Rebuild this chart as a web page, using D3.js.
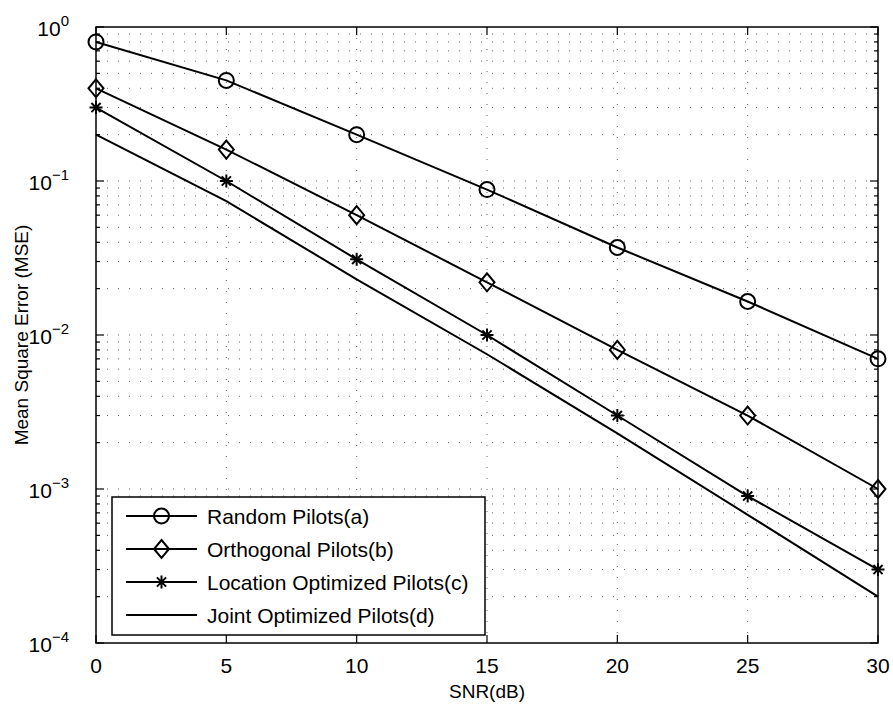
<!DOCTYPE html>
<html>
<head>
<meta charset="utf-8">
<script src="https://cdn.jsdelivr.net/npm/d3@7"></script>
<style>
  body { margin: 0; background: #fff; }
  svg { display: block; font-family: "Liberation Sans", Arial, Helvetica, sans-serif; }
  .grid line { stroke: #666; stroke-width: 1; stroke-dasharray: 1,10; }
</style>
</head>
<body>
<svg id="chart" width="893" height="706"></svg>
<script>
(function () {
  "use strict";

  const snr = [0, 5, 10, 15, 20, 25, 30];
  const randomMse = [0.8, 0.45, 0.2, 0.088, 0.037, 0.0165, 0.007];
  const orthMse = [0.4, 0.16, 0.06, 0.022, 0.008, 0.003, 0.001];
  const locMse = [0.3, 0.1, 0.031, 0.01, 0.003, 0.0009, 0.0003];
  const jointMse = [0.2, 0.074, 0.023, 0.0075, 0.0023, 0.00068, 0.0002];

  const seriesNames = ["Random Pilots(a)", "Orthogonal Pilots(b)", "Location Optimized Pilots(c)", "Joint Optimized Pilots(d)"];
  const seriesMarkers = ["circle", "diamond", "asterisk", "none"];
  const seriesValues = [randomMse, orthMse, locMse, jointMse];

  const xTicks = [0, 5, 10, 15, 20, 25, 30];
  const yDecades = [-4, -3, -2, -1, 0];

  const svg = d3.select("#chart");
  const left = 96, right = 878, top = 27, bottom = 643;

  const x = d3.scaleLinear().domain([0, 30]).range([left, right]);
  const y = d3.scaleLog().domain([1e-4, 1]).range([bottom, top]);

  // minor log values for grid + ticks
  const minorVals = [];
  yDecades.slice(0, -1).forEach((e) => {
    for (let k = 2; k <= 9; k++) minorVals.push(k * Math.pow(10, e));
  });
  const allY = minorVals.concat(yDecades.map((e) => Math.pow(10, e)));

  // dotted grid
  const grid = svg.append("g").attr("class", "grid");
  grid.selectAll("line.h")
    .data(allY.filter((v) => v > 1e-4 && v < 1))
    .join("line")
    .attr("x1", left).attr("x2", right)
    .attr("y1", (d) => y(d)).attr("y2", (d) => y(d));
  grid.selectAll("line.v")
    .data(xTicks.filter((v) => v > 0 && v < 30))
    .join("line")
    .attr("class", "v")
    .attr("x1", (d) => x(d)).attr("x2", (d) => x(d))
    .attr("y1", top).attr("y2", bottom);

  // inward ticks on all four sides
  const ticks = svg.append("g").attr("stroke", "#000").attr("stroke-width", 1.2);
  xTicks.forEach((v) => {
    ticks.append("line").attr("x1", x(v)).attr("x2", x(v)).attr("y1", bottom).attr("y2", bottom - 8);
    ticks.append("line").attr("x1", x(v)).attr("x2", x(v)).attr("y1", top).attr("y2", top + 8);
  });
  allY.forEach((v) => {
    const major = yDecades.some((e) => Math.abs(Math.log10(v) - e) < 1e-9);
    const len = major ? 8 : 4;
    ticks.append("line").attr("x1", left).attr("x2", left + len).attr("y1", y(v)).attr("y2", y(v));
    ticks.append("line").attr("x1", right).attr("x2", right - len).attr("y1", y(v)).attr("y2", y(v));
  });

  // frame
  svg.append("rect")
    .attr("x", left).attr("y", top)
    .attr("width", right - left).attr("height", bottom - top)
    .attr("fill", "none").attr("stroke", "#000").attr("stroke-width", 1.5);

  // tick labels
  svg.append("g").selectAll("text")
    .data(xTicks)
    .join("text")
    .attr("x", (d) => x(d))
    .attr("y", bottom + 30)
    .attr("text-anchor", "middle")
    .attr("font-size", 21)
    .text((d) => d);

  const yl = svg.append("g").selectAll("text")
    .data(yDecades)
    .join("text")
    .attr("x", 69)
    .attr("y", (d) => y(Math.pow(10, d)) + 9)
    .attr("text-anchor", "end")
    .attr("font-size", 21);
  yl.append("tspan").text("10");
  yl.append("tspan")
    .attr("dy", -10)
    .attr("font-size", 15)
    .text((d) => (d < 0 ? "\u2212" + (-d) : d));

  // axis titles
  svg.append("text")
    .attr("x", (left + right) / 2).attr("y", 698)
    .attr("text-anchor", "middle").attr("font-size", 19)
    .text("SNR(dB)");
  svg.append("text")
    .attr("transform", `translate(28,${(top + bottom) / 2}) rotate(-90)`)
    .attr("text-anchor", "middle").attr("font-size", 19)
    .text("Mean Square Error (MSE)");

  function drawMarker(g, type, cx, cy) {
    if (type === "circle") {
      g.append("circle").attr("cx", cx).attr("cy", cy).attr("r", 7.5)
        .attr("fill", "none").attr("stroke", "#000").attr("stroke-width", 2);
    } else if (type === "diamond") {
      g.append("path")
        .attr("d", `M${cx},${cy - 9}L${cx + 7.5},${cy}L${cx},${cy + 9}L${cx - 7.5},${cy}Z`)
        .attr("fill", "none").attr("stroke", "#000").attr("stroke-width", 2);
    } else if (type === "asterisk") {
      const r = 6.5, d = 4.6;
      g.append("path")
        .attr("d", `M${cx - r},${cy}H${cx + r}M${cx},${cy - r}V${cy + r}` +
          `M${cx - d},${cy - d}L${cx + d},${cy + d}M${cx - d},${cy + d}L${cx + d},${cy - d}`)
        .attr("fill", "none").attr("stroke", "#000").attr("stroke-width", 2);
    }
  }

  const line = d3.line().x((d) => x(d[0])).y((d) => y(d[1]));
  const plot = svg.append("g");
  seriesValues.forEach((vals, i) => {
    const pts = snr.map((s, j) => [s, vals[j]]);
    plot.append("path")
      .attr("d", line(pts))
      .attr("fill", "none").attr("stroke", "#000").attr("stroke-width", 2);
    pts.forEach((p) => drawMarker(plot, seriesMarkers[i], x(p[0]), y(p[1])));
  });

  // legend
  const lg = svg.append("g");
  const lgTop = 497, lgBottom = 635, lgLeft = 112, lgRight = 485;
  lg.append("rect")
    .attr("x", lgLeft).attr("y", lgTop)
    .attr("width", lgRight - lgLeft).attr("height", lgBottom - lgTop)
    .attr("fill", "#fff").attr("stroke", "#000").attr("stroke-width", 1.5);
  seriesNames.forEach((name, i) => {
    const ry = 516 + i * 33;
    lg.append("line").attr("x1", 126).attr("x2", 197).attr("y1", ry).attr("y2", ry)
      .attr("stroke", "#000").attr("stroke-width", 2);
    drawMarker(lg, seriesMarkers[i], 161.5, ry);
    lg.append("text").attr("x", 207).attr("y", ry + 7.5)
      .attr("font-size", 21).text(name);
  });
})();
</script>
</body>
</html>
